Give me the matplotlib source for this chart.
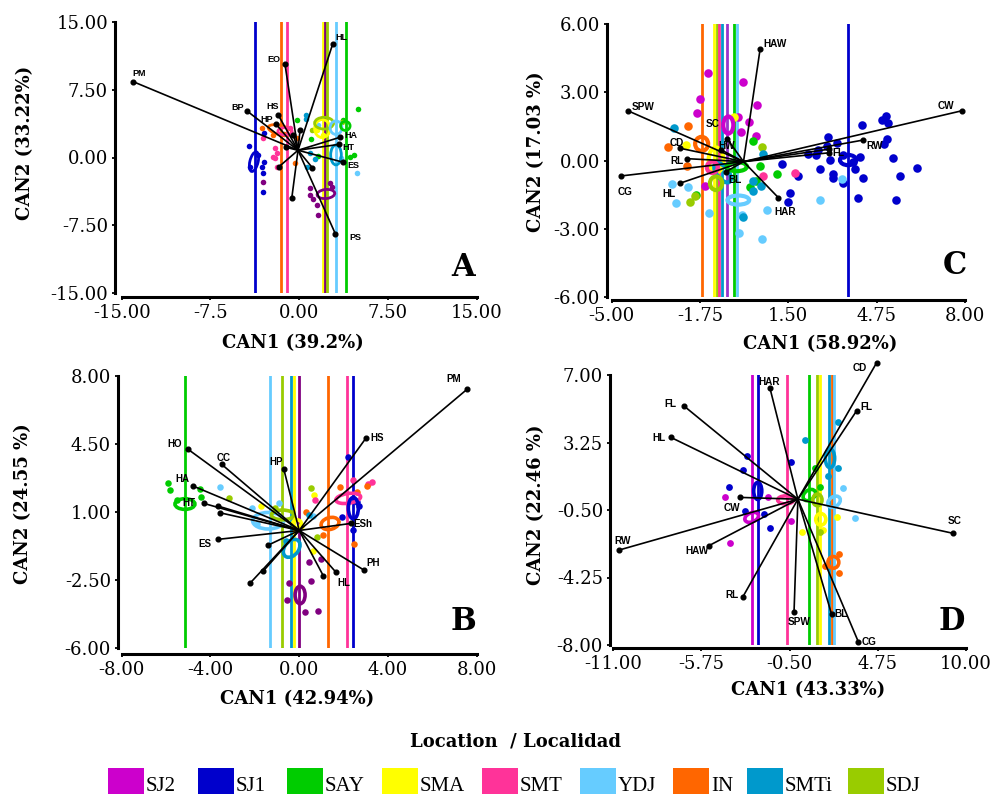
import matplotlib
matplotlib.use('Agg')
import matplotlib.pyplot as plt
from matplotlib.patches import Ellipse, Rectangle

plt.rcParams['font.family'] = ['DejaVu Serif']

# ------------------------------------------------------------------ data
groups = ['SJ2', 'SJ1', 'SAY', 'SMA', 'SMT', 'YDJ', 'IN', 'SMTi', 'SDJ']
group_colors = ['#CC00CC', '#0000CC', '#00CC00', '#FFFF00', '#FF3399',
                '#66CCFF', '#FF6600', '#0099CC', '#99CC00']
legend_title = 'Location  / Localidad'

# ---- Panel A
A_line_groups = ['SJ1', 'IN', 'SMT', 'SMA', 'SJ2', 'SDJ', 'YDJ', 'SAY']
A_line_x = [-3.71, -1.57, -1.06, 1.98, 2.18, 2.32, 3.11, 3.98]
A_points = {
    'SJ1': [(-4.22, 1.27), (-2.95, -0.46), (-3.17, -1.02), (-3.03, -1.75), (-3.03, -3.78),
            (-2.95, 2.75), (-4.16, -1.02), (-3.5, 0.3)],
    'SMT': [(-3.03, 2.12), (-2.04, 1.01), (-1.90, 0.46), (-2.04, -0.09), (-1.90, -1.02),
            (-2.2, 0.1), (-0.8, 3.3)],
    'IN': [(-3.17, 3.23), (-2.19, 2.49), (-1.3, 2.6), (-0.35, -0.57), (-0.2, 2.2)],
    'SAY': [(-0.21, 4.15), (5.0, 5.33), (1.62, 0.17), (4.29, 0.09), (3.73, 4.15), (4.6, 0.3), (1.0, 2.0)],
    'SMTi': [(0.57, 4.70), (0.6, 4.3), (0.91, 0.46), (0.63, -1.02), (1.3, -0.2)],
    'YDJ': [(4.86, -1.75), (1.6, 3.6), (3.5, 0.0)],
    'SJ2': [(-3.03, -2.68), (0.91, -4.15), (1.2, -4.6), (1.48, -5.26), (1.62, -6.37),
            (2.60, -2.86), (0.9, -3.4), (2.8, -3.3)],
    'SMA': [(1.5, 3.0), (2.0, 2.5)],
    'SDJ': [(1.1, 3.0), (3.6, 3.9)],
}
A_ellipses = [  # group, cx, cy, width, height, angle
    ('SJ1', -3.82, -0.46, 0.7, 2.2, -10), ('IN', -1.62, 3.04, 2.1, 1.0, -20),
    ('SMT', -1.2, 2.9, 1.2, 0.8, 0), ('SMA', 1.95, 3.2, 1.3, 2.0, 0),
    ('SDJ', 2.1, 3.8, 1.6, 1.3, 0), ('YDJ', 3.11, 3.3, 1.0, 1.5, 0),
    ('SMTi', 3.11, 0.28, 0.9, 2.2, 0), ('SJ2', 2.26, -4.04, 1.5, 1.0, 10),
    ('SAY', 3.9, 3.5, 0.8, 1.0, 0)]
A_origin = (-0.1, 0.8)
A_vec_names = ['PM', 'BP', 'HS', 'HP', 'EO', 'HL', 'HA', 'HT', 'ES', 'PS', '', '', '', '', '', '']
A_vec_x = [-14.02, -4.44, -1.77, -1.96, -1.20, 2.83, 3.45, 3.39, 3.73, 3.05, -0.63, -1.71, 1.11, -1.12, -0.5, 0.07]
A_vec_y = [8.39, 5.18, 4.70, 3.71, 10.3, 12.56, 2.24, 1.46, -0.53, -8.43, -4.52, -1.02, -1.13, 1.13, 2.49, 3.04]
A_lab_x = [-13.54, -5.2, -2.24, -2.72, -2.13, 3.59, 4.35, 4.18, 4.55, 4.77]
A_lab_y = [9.35, 5.48, 5.70, 4.26, 10.9, 13.23, 2.41, 1.16, -0.94, -8.91]

# ---- Panel B
B_line_groups = ['SAY', 'YDJ', 'SDJ', 'SMTi', 'SMA', 'SJ2', 'IN', 'SMT', 'SJ1']
B_line_x = [-5.15, -1.32, -0.79, -0.38, -0.23, 0.0, 1.31, 2.14, 2.41]
B_points = {
    'SAY': [(-5.9, 2.5), (-5.82, 2.13), (-4.47, 2.16), (-4.44, 1.79), (-5.5, 1.6)],
    'YDJ': [(-3.57, 2.27), (-2.14, 1.19), (-0.89, 1.48), (-1.9, 0.4), (0.6, 0.8)],
    'SDJ': [(-3.15, 1.70), (0.53, 2.22), (0.79, -0.27), (-1.1, 1.2)],
    'SMA': [(-1.74, 1.31), (0.67, 1.90), (0.1, 0.3), (0.6, -1.0)],
    'SMT': [(0.69, 1.62), (2.41, 2.64), (3.30, 2.54), (3.08, 2.42)],
    'IN': [(1.84, 2.30), (2.59, 2.04), (0.29, 1.02), (1.06, -0.19), (2.49, -0.65), (3.04, 2.35)],
    'SJ1': [(2.19, 3.81), (1.94, 0.76), (2.70, 1.31), (2.41, 0.07), (2.6, 1.5)],
    'SMTi': [(0.44, 0.84), (-0.6, -0.5)],
    'SJ2': [(0.44, -1.56), (1.0, -1.44), (-0.45, -2.67), (0.54, -2.54), (-0.57, -3.53),
            (0.26, -4.13), (0.83, -4.08)],
}
B_ellipses = [
    ('SAY', -5.15, 1.41, 0.9, 0.55, 0), ('SMT', 2.21, 1.70, 1.13, 0.5, 10),
    ('SJ1', 2.44, 1.2, 0.45, 1.1, 0), ('IN', 1.39, 0.41, 0.83, 0.6, 20),
    ('SMTi', -0.34, -0.87, 0.65, 1.0, -30), ('SJ2', 0.04, -3.27, 0.45, 0.9, 0),
    ('YDJ', -1.4, 0.55, 1.4, 0.85, 0), ('SDJ', -0.75, 0.85, 1.0, 0.5, 0),
    ('SMA', -0.1, 0.4, 0.4, 0.4, 0)]
B_origin = (0.0, 0.05)
B_vec_names = ['PM', 'HS', 'HO', 'CC', 'HP', 'HA', 'HT', '', '', 'ESh', 'ES', 'PH', 'HL', '', '', '', '']
B_vec_x = [7.58, 3.0, -5.0, -3.49, -0.69, -4.77, -4.29, -3.67, -3.57, 2.32, -3.67, 2.92, 1.64, 1.09, -1.39, -1.62, -2.22]
B_vec_y = [7.33, 4.79, 4.22, 3.45, 3.19, 2.33, 1.44, 1.31, 0.96, 0.41, -0.41, -1.99, -2.08, -2.29, -0.70, -2.04, -2.67]
B_lab_x = [6.95, 3.51, -5.6, -3.42, -1.05, -5.25, -4.95, None, None, 2.89, -4.24, 3.34, 1.99]
B_lab_y = [7.82, 4.79, 4.49, 3.79, 3.59, 2.68, 1.48, None, None, 0.38, -0.65, -1.64, -2.67]

# ---- Panel C
C_line_groups = ['IN', 'SMA', 'SDJ', 'SMT', 'SMTi', 'SJ2', 'SAY', 'YDJ', 'SJ1']
C_line_x = [-1.69, -1.23, -1.14, -1.04, -0.95, -0.76, -0.50, -0.40, 3.68]
C_points = {
    'SJ1': [(1.25, -0.15), (1.56, -1.44), (1.50, -1.81), (1.84, -0.67), (2.23, 0.27), (2.50, 0.24),
            (2.66, -0.39), (2.60, 0.46), (2.95, 1.05), (2.91, 0.64), (3.03, 0.02), (3.15, -0.59),
            (3.15, -0.78), (3.30, 0.78), (3.50, -1.0), (3.52, 0.24), (3.89, -0.05), (3.95, -0.39),
            (4.08, -1.66), (4.20, 1.55), (4.26, -0.78), (4.13, 0.14), (4.93, 1.78), (5.09, 1.96),
            (5.15, 1.63), (5.12, 0.93), (5.02, 0.71), (5.34, 0.10), (5.45, -1.74), (5.61, -0.68),
            (6.24, -0.32)],
    'SJ2': [(-1.47, 3.83), (-0.16, 3.47), (-1.75, 2.69), (-1.87, 2.07), (-0.34, 1.93), (0.33, 2.44),
            (0.06, 1.71), (-0.26, 1.27), (0.31, 1.08), (-1.57, -1.12)],
    'IN': [(-2.21, 1.52), (-2.94, 0.61), (-2.24, -0.24)],
    'SMA': [(-2.27, 0.68), (-0.5, 1.9)],
    'SAY': [(0.21, 0.87), (0.46, -0.24), (1.09, -0.59), (0.09, -1.15), (-1.90, -1.52), (0.3, -0.9)],
    'SDJ': [(0.54, 0.61), (-2.12, -1.81), (-1.95, -1.55)],
    'YDJ': [(-2.79, -1.03), (-2.63, -1.88), (-2.18, -1.15), (-1.41, -2.32), (0.70, -2.18),
            (0.54, -3.46), (-0.30, -3.20), (-0.22, -2.40), (2.67, -1.74), (3.46, -0.83)],
    'SMTi': [(-2.70, 1.41), (0.58, 0.29), (0.21, -0.89), (0.19, -1.34), (0.5, -1.1), (-0.16, -2.47)],
    'SMT': [(1.75, -0.56), (0.55, -0.68)],
}
C_ellipses = [
    ('SJ2', -0.71, 1.56, 0.37, 0.75, 0), ('IN', -1.69, 0.73, 0.48, 0.62, 0),
    ('SMA', -1.16, 0.02, 0.55, 1.1, 0), ('SMTi', -0.92, -0.54, 0.45, 0.95, 30),
    ('SDJ', -1.16, -1.0, 0.45, 0.6, 0), ('SAY', -0.40, -0.27, 0.75, 0.4, 0),
    ('YDJ', -0.34, -1.74, 0.8, 0.4, 0), ('SJ1', 3.70, 0.02, 0.6, 0.45, 0),
    ('SMT', -1.3, -0.3, 0.4, 0.5, 0)]
C_origin = (-0.15, -0.05)
C_vec_names = ['HAW', 'SPW', 'CW', 'RW', 'FL', '', 'SC', 'CD', 'HW', 'RL', 'CG', 'HL', 'BL', 'HAR']
C_vec_x = [0.46, -4.41, 7.90, 4.26, 3.01, 3.01, -0.75, -2.49, -0.96, -2.22, -4.66, -2.49, -0.79, 1.13]
C_vec_y = [4.89, 2.19, 2.19, 0.90, 0.34, 0.50, 0.95, 0.54, 0.46, 0.08, -0.68, -1.0, -0.49, -1.63]
C_lab_x = [1.01, -3.85, 7.30, 4.69, 3.33, None, -1.28, -2.60, -0.77, -2.61, -4.51, -2.89, -0.46, 1.38]
C_lab_y = [5.12, 2.36, 2.40, 0.64, 0.33, None, 1.60, 0.78, 0.64, -0.01, -1.37, -1.47, -0.86, -2.25]

# ---- Panel D
D_line_groups = ['SJ2', 'SJ1', 'SMT', 'SAY', 'SDJ', 'SMA', 'SMTi', 'IN', 'YDJ']
D_line_x = [-2.75, -2.39, -0.67, 0.66, 1.15, 1.31, 1.85, 2.01, 2.17]
D_points = {
    'SJ1': [(-3.05, 2.5), (-3.29, 1.72), (-4.08, 0.76), (-3.13, -0.54), (-2.02, -0.72),
            (-1.66, -1.48), (-0.41, 2.19)],
    'SJ2': [(-4.34, 0.20), (-4.04, -2.31), (-0.41, -1.11), (-1.8, 0.2)],
    'SMTi': [(0.42, 3.39), (2.41, 4.41), (2.38, 1.81), (1.8, 1.4)],
    'SAY': [(1.02, 1.81), (1.3, 0.8)],
    'YDJ': [(2.70, 0.74), (3.40, -0.96)],
    'SMA': [(0.26, -1.70), (2.31, -0.87), (1.47, -1.61)],
    'IN': [(2.47, -2.94), (2.47, -4.02), (1.6, -3.6)],
    'SDJ': [(1.3, -1.7)],
}
D_ellipses = [
    ('SJ1', -2.39, 0.56, 0.48, 0.95, 0), ('SJ2', -2.75, -0.91, 0.85, 0.5, 20),
    ('SMT', -0.73, 0.06, 0.95, 0.45, 0), ('SAY', 0.68, 0.33, 0.8, 0.55, 30),
    ('SDJ', 1.16, 0.06, 0.55, 0.65, 0), ('YDJ', 2.15, -0.04, 0.8, 0.55, 30),
    ('SMA', 1.36, -1.02, 0.6, 0.65, 0), ('SMTi', 1.91, 2.37, 0.55, 1.05, 0),
    ('IN', 2.11, -3.41, 0.65, 0.65, 0)]
D_origin = (0.0, 0.1)
D_vec_names = ['CD', 'FL', 'FL', 'HL', 'HAR', 'CW', 'RW', 'HAW', 'RL', 'SPW', 'BL', 'CG', 'SC']
D_vec_x = [4.69, 3.50, -6.78, -7.57, -1.66, -3.45, -10.62, -5.29, -3.29, -0.23, 2.0, 3.59, 9.25]
D_vec_y = [7.69, 5.02, 5.28, 3.54, 6.26, 0.20, -2.72, -2.48, -5.35, -6.15, -6.28, -7.81, -1.80]
D_lab_x = [3.69, 4.09, -7.61, -8.24, -1.70, -3.94, -10.42, -6.02, -3.94, 0.09, 2.54, 4.23, 9.35]
D_lab_y = [7.37, 5.24, 5.37, 3.48, 6.63, -0.37, -2.22, -2.76, -5.22, -6.70, -6.28, -7.81, -1.09]

# ------------------------------------------------------------------ style / layout
W, H = 990, 798
fig = plt.figure(figsize=(W / 100, H / 100), dpi=100)
base_pal = dict(zip(groups, group_colors))


def pal_with(**over):
    p = dict(base_pal)
    p.update(over)
    return p


panels = [
    dict(box=(121.7, 22, 476.7, 293), xlim=(-15, 15), ylim=(-15, 15),
         xt=[-15, -7.5, 0, 7.5, 15], xtl=['-15.00', '-7.5', '0.00', '7.50', '15.00'],
         yt=[-15, -7.5, 0, 7.5, 15], ytl=['-15.00', '-7.50', '0.00', '7.50', '15.00'],
         off=(4.8, 2.9), lines=(A_line_groups, A_line_x), pts=A_points, ell=A_ellipses,
         origin=A_origin, vec=(A_vec_names, A_vec_x, A_vec_y, A_lab_x, A_lab_y),
         pal=pal_with(SJ2='#800080'), s=16, lfs=6.5, elw=2.0,
         xlabel=('CAN1 (39.2%)', 293, 343), ylabel=('CAN2 (33.22%)', 25, 143), letter=('A', 463, 267)),
    dict(box=(121.7, 376, 476.7, 648), xlim=(-8, 8), ylim=(-6, 8),
         xt=[-8, -4, 0, 4, 8], xtl=['-8.00', '-4.00', '0.00', '4.00', '8.00'],
         yt=[-6, -2.5, 1, 4.5, 8], ytl=['-6.00', '-2.50', '1.00', '4.50', '8.00'],
         off=(2.7, 4.3), lines=(B_line_groups, B_line_x), pts=B_points, ell=B_ellipses,
         origin=B_origin, vec=(B_vec_names, B_vec_x, B_vec_y, B_lab_x, B_lab_y),
         pal=pal_with(SJ2='#800080', SMT='#FF3399'), s=22, lfs=7, elw=2.6,
         xlabel=('CAN1 (42.94%)', 297, 699), ylabel=('CAN2 (24.55 %)', 23, 504), letter=('B', 463, 621)),
    dict(box=(611.7, 24, 965, 297), xlim=(-5, 8), ylim=(-6, 6),
         xt=[-5, -1.75, 1.5, 4.75, 8], xtl=['-5.00', '-1.75', '1.50', '4.75', '8.00'],
         yt=[-6, -3, 0, 3, 6], ytl=['-6.00', '-3.00', '0.00', '3.00', '6.00'],
         off=(3.4, 2.2), lines=(C_line_groups, C_line_x), pts=C_points, ell=C_ellipses,
         origin=C_origin, vec=(C_vec_names, C_vec_x, C_vec_y, C_lab_x, C_lab_y),
         pal=base_pal, linepal=pal_with(SJ2='#9933CC'), s=38, lfs=7.2, elw=3.0,
         xlabel=('CAN1 (58.92%)', 820, 344), ylabel=('CAN2 (17.03 %)', 536, 152), letter=('C', 955, 265)),
    dict(box=(613, 375, 966, 645), xlim=(-11, 10), ylim=(-8, 7),
         xt=[-11, -5.75, -0.5, 4.75, 10], xtl=['-11.00', '-5.75', '-0.50', '4.75', '10.00'],
         yt=[-8, -4.25, -0.5, 3.25, 7], ytl=['-8.00', '-4.25', '-0.50', '3.25', '7.00'],
         off=(2.2, 2.2), lines=(D_line_groups, D_line_x), pts=D_points, ell=D_ellipses,
         origin=D_origin, vec=(D_vec_names, D_vec_x, D_vec_y, D_lab_x, D_lab_y),
         pal=base_pal, s=24, lfs=7.2, elw=2.6,
         xlabel=('CAN1 (43.33%)', 808, 690), ylabel=('CAN2 (22.46 %)', 536, 505), letter=('D', 952, 621)),
]

overlay = fig.add_axes([0, 0, 1, 1], zorder=10)
overlay.set_xlim(0, W)
overlay.set_ylim(H, 0)
overlay.axis('off')
overlay.patch.set_alpha(0)

for p in panels:
    l, t, r, b = p['box']
    ax = fig.add_axes([l / W, 1 - b / H, (r - l) / W, (b - t) / H])
    ax.set_xlim(*p['xlim'])
    ax.set_ylim(*p['ylim'])
    for side in ('top', 'right'):
        ax.spines[side].set_visible(False)
    ax.spines['left'].set_position(('outward', p['off'][0]))
    ax.spines['bottom'].set_position(('outward', p['off'][1]))
    for side in ('left', 'bottom'):
        ax.spines[side].set_linewidth(2.2)
    ax.set_xticks(p['xt'])
    ax.set_xticklabels(p['xtl'])
    ax.set_yticks(p['yt'])
    ax.set_yticklabels(p['ytl'])
    ax.tick_params(direction='out', length=2.5, width=1.3, labelsize=13, pad=2.5, colors='black')
    ax.patch.set_alpha(0)

    pal = p['pal']
    linepal = p.get('linepal', pal)
    for g, x in zip(*p['lines']):
        ax.axvline(x, color=linepal[g], lw=2.0, zorder=1)
    for g, pts in p['pts'].items():
        ax.scatter([q[0] for q in pts], [q[1] for q in pts], s=p['s'], color=pal[g],
                   linewidths=0, zorder=2)
    for g, cx, cy, w, h, a in p['ell']:
        ax.add_patch(Ellipse((cx, cy), w, h, angle=a, fill=False, ec=pal[g],
                             lw=p['elw'], zorder=3))
    ox, oy = p['origin']
    names, vx, vy, lx, ly = p['vec']
    for i, (nm, ex, ey) in enumerate(zip(names, vx, vy)):
        ax.plot([ox, ex], [oy, ey], color='black', lw=1.2, zorder=5, clip_on=False)
        ax.plot([ex], [ey], 'o', color='black', ms=3.4, zorder=6, clip_on=False)
        if nm:
            ax.text(lx[i], ly[i], nm, fontsize=p['lfs'], fontweight='bold',
                    family=['Liberation Sans', 'DejaVu Sans'], ha='center', va='center',
                    zorder=7, clip_on=False)

    txt, x, y = p['xlabel']
    overlay.text(x, y, txt, fontsize=13, fontweight='bold', ha='center', va='center')
    txt, x, y = p['ylabel']
    overlay.text(x, y, txt, fontsize=13, fontweight='bold', ha='center', va='center', rotation=90)
    txt, x, y = p['letter']
    overlay.text(x, y, txt, fontsize=22, fontweight='bold', ha='center', va='center')

# legend
overlay.text(515, 741, legend_title, fontsize=13, fontweight='bold', ha='center', va='center')
leg_x = [108, 198, 287, 382, 482, 580, 673, 747, 848]
for g, c, x in zip(groups, group_colors, leg_x):
    overlay.add_patch(Rectangle((x, 768), 36, 26, facecolor=c, edgecolor='none'))
    overlay.text(x + 38, 796, g, fontsize=15, family=['Liberation Serif'], ha='left', va='bottom')

fig.savefig('out.png', dpi=100)
